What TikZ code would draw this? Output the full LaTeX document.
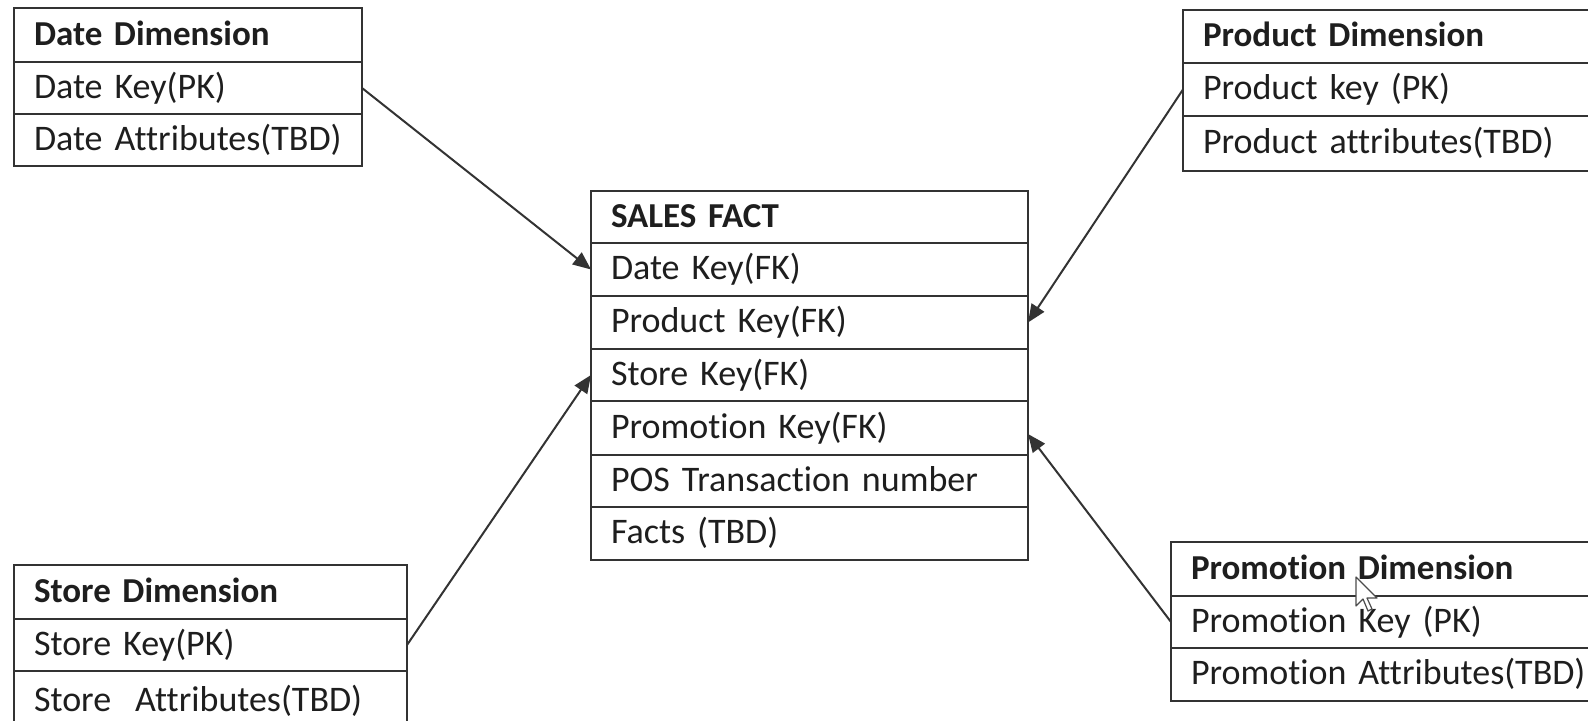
\documentclass[tikz,border=0pt]{standalone}
\usepackage{fontspec}
\setmainfont{Carlito}[Ligatures=NoCommon, WordSpace=0.85]
\usetikzlibrary{arrows.meta}
\definecolor{linecol}{HTML}{333333}
\definecolor{txtcol}{HTML}{1E1E1E}
\tikzset{
  cell/.style={draw=linecol, line width=1pt, rectangle, anchor=north west,
    outer sep=0pt, inner xsep=10pt, inner ysep=0pt, align=left,
    text height=1.1em, text depth=0.06em, text=txtcol,
    font=\fontsize{18}{21}\selectfont},
  head/.style={cell, font=\fontsize{17.5}{20}\selectfont\bfseries},
  conn/.style={draw=linecol, line width=1pt, -{Triangle[length=9pt,width=7.5pt]}},
}
\begin{document}
\begin{tikzpicture}[x=0.5pt, y=-0.5pt]
\useasboundingbox (0,0) rectangle (1588,721);
\clip (0,0) rectangle (1588,721);

% Date dimension
\node[head, text width=154pt, minimum height=27pt] (dateH) at (14,8) {Date Dimension};
\node[cell, text width=154pt, minimum height=26pt] (date1) at (14,62) {Date Key(PK)};
\node[cell, text width=154pt, minimum height=26pt] (date2) at (14,114) {Date Attributes(TBD)};

% Product dimension (runs off the right edge)
\node[head, text width=240pt, minimum height=26.5pt] (prodH) at (1183,10) {Product Dimension};
\node[cell, text width=240pt, minimum height=26.5pt] (prod1) at (1183,63) {Product key (PK)};
\node[cell, text width=240pt, minimum height=27.5pt] (prod2) at (1183,116) {Product attributes(TBD)};

% Sales fact table
\node[head, text width=198.5pt, minimum height=26pt] (sfH) at (591,191) {SALES FACT};
\node[cell, text width=198.5pt, minimum height=26.5pt] (sf1) at (591,243) {Date Key(FK)};
\node[cell, text width=198.5pt, minimum height=26.5pt] (sf2) at (591,296) {Product Key(FK)};
\node[cell, text width=198.5pt, minimum height=26pt] (sf3) at (591,349) {Store Key(FK)};
\node[cell, text width=198.5pt, minimum height=27pt] (sf4) at (591,401) {Promotion Key(FK)};
\node[cell, text width=198.5pt, minimum height=26pt] (sf5) at (591,455) {POS Transaction number};
\node[cell, text width=198.5pt, minimum height=26.5pt] (sf6) at (591,507) {Facts (TBD)};

% Store dimension (runs off the bottom edge)
\node[head, text width=176.5pt, minimum height=27pt] (storeH) at (14,565) {Store Dimension};
\node[cell, text width=176.5pt, minimum height=26pt] (store1) at (14,619) {Store Key(PK)};
\node[cell, text width=176.5pt, minimum height=30pt] (store2) at (14,671) {Store\ \ Attributes(TBD)};

% Promotion dimension (runs off the right edge)
\node[head, text width=240pt, minimum height=27pt] (promoH) at (1171,542) {Promotion Dimension};
\node[cell, text width=240pt, minimum height=26pt] (promo1) at (1171,596) {Promotion Key (PK)};
\node[cell, text width=240pt, minimum height=26.5pt] (promo2) at (1171,648) {Promotion Attributes(TBD)};

% Foreign key references
\draw[conn] (date1.east) -- (sf1.west);
\draw[conn] (prod1.west) -- (sf2.east);
\draw[conn] (store1.east) -- (sf3.west);
\draw[conn] (promo1.west) -- ([yshift=-3pt]sf4.east);

% Mouse pointer
\draw[fill=white, draw=black!70, line width=0.6pt, line join=round]
  (1356,577) -- (1356,606) -- (1363,599) -- (1368,611) -- (1372,609)
  -- (1367,598) -- (1377,598) -- cycle;
\end{tikzpicture}
\end{document}
